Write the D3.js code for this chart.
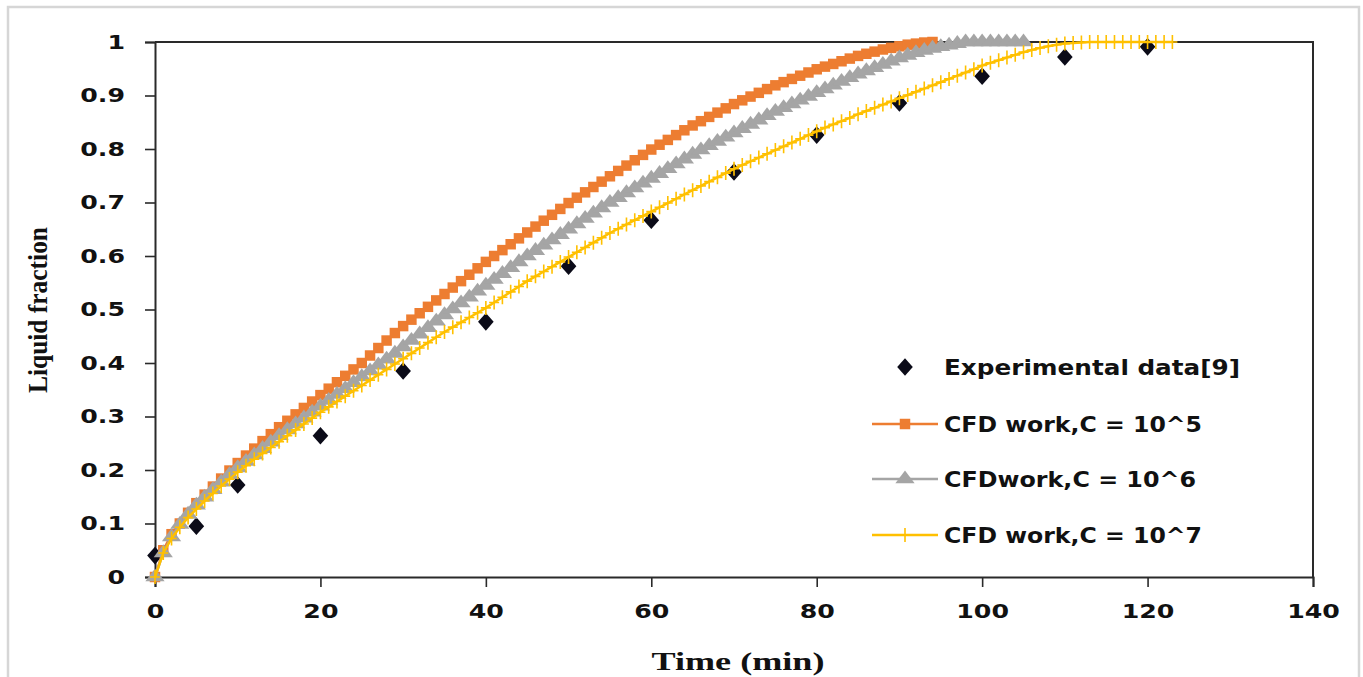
<!DOCTYPE html>
<html>
<head>
<meta charset="utf-8">
<script src="https://cdn.jsdelivr.net/npm/d3@7/dist/d3.min.js"></script>
<style>
  html, body { margin: 0; padding: 0; background: #fff; }
  svg { display: block; }
</style>
</head>
<body>
<svg id="chart" width="1363" height="677"></svg>
<script>
// Liquid fraction over melting time: experiment vs. CFD runs with different mushy-zone constants

const xTicks = [0, 20, 40, 60, 80, 100, 120, 140];
const yTicks = [0, 0.1, 0.2, 0.3, 0.4, 0.5, 0.6, 0.7, 0.8, 0.9, 1];

const seriesNames = [
  "Experimental data[9]",
  "CFD work,C = 10^5",
  "CFDwork,C = 10^6",
  "CFD work,C = 10^7"
];

// Experimental points (time in min, liquid fraction)
const expTime = [0, 5, 10, 20, 30, 40, 50, 60, 70, 80, 90, 100, 110, 120];
const expFrac = [0.04, 0.095, 0.172, 0.264, 0.385, 0.477, 0.581, 0.667, 0.757, 0.826, 0.886, 0.936, 0.972, 0.991];

// CFD results, one value per minute starting at t = 0
const cfdC5 = [
  0.000, 0.050, 0.080, 0.100, 0.120, 0.138, 0.154, 0.169, 0.184, 0.199,
  0.213, 0.227, 0.240, 0.254, 0.267, 0.280, 0.292, 0.304, 0.316, 0.328,
  0.340, 0.352, 0.364, 0.376, 0.388, 0.400, 0.414, 0.428, 0.442, 0.456,
  0.469, 0.481, 0.493, 0.505, 0.517, 0.529, 0.541, 0.553, 0.565, 0.577,
  0.589, 0.600, 0.611, 0.622, 0.633, 0.644, 0.655, 0.666, 0.677, 0.688,
  0.699, 0.709, 0.719, 0.729, 0.739, 0.749, 0.759, 0.769, 0.779, 0.789,
  0.799, 0.808, 0.817, 0.826, 0.835, 0.844, 0.852, 0.860, 0.868, 0.876,
  0.884, 0.891, 0.898, 0.905, 0.912, 0.919, 0.925, 0.931, 0.937, 0.943,
  0.949, 0.954, 0.959, 0.964, 0.969, 0.974, 0.978, 0.982, 0.986, 0.989,
  0.992, 0.995, 0.997, 0.999, 1.000
];

const cfdC6 = [
  0.000, 0.045, 0.075, 0.098, 0.117, 0.134, 0.149, 0.163, 0.177, 0.191,
  0.204, 0.216, 0.228, 0.240, 0.252, 0.264, 0.275, 0.286, 0.297, 0.308,
  0.319, 0.330, 0.341, 0.352, 0.363, 0.374, 0.385, 0.396, 0.407, 0.418,
  0.430, 0.442, 0.454, 0.466, 0.478, 0.490, 0.501, 0.512, 0.523, 0.534,
  0.545, 0.556, 0.567, 0.578, 0.589, 0.600, 0.610, 0.620, 0.630, 0.640,
  0.650, 0.660, 0.670, 0.680, 0.690, 0.700, 0.709, 0.718, 0.727, 0.736,
  0.745, 0.754, 0.763, 0.772, 0.781, 0.790, 0.798, 0.806, 0.814, 0.822,
  0.830, 0.838, 0.846, 0.854, 0.862, 0.870, 0.877, 0.884, 0.891, 0.898,
  0.905, 0.912, 0.919, 0.926, 0.933, 0.940, 0.946, 0.952, 0.958, 0.964,
  0.970, 0.975, 0.980, 0.984, 0.988, 0.991, 0.994, 0.997, 1.000, 1.000,
  1.000, 1.000, 1.000, 1.000, 1.000, 1.000
];

const cfdC7 = [
  0.000, 0.045, 0.072, 0.093, 0.111, 0.127, 0.142, 0.156, 0.170, 0.183,
  0.196, 0.208, 0.220, 0.231, 0.242, 0.253, 0.264, 0.275, 0.286, 0.297,
  0.308, 0.318, 0.328, 0.338, 0.348, 0.358, 0.368, 0.378, 0.388, 0.398,
  0.408, 0.418, 0.428, 0.438, 0.448, 0.458, 0.467, 0.476, 0.485, 0.494,
  0.503, 0.513, 0.523, 0.533, 0.543, 0.553, 0.562, 0.571, 0.580, 0.589,
  0.598, 0.607, 0.616, 0.625, 0.634, 0.643, 0.651, 0.659, 0.667, 0.675,
  0.683, 0.691, 0.699, 0.707, 0.715, 0.723, 0.731, 0.739, 0.747, 0.755,
  0.763, 0.770, 0.777, 0.784, 0.791, 0.798, 0.805, 0.812, 0.819, 0.826,
  0.833, 0.840, 0.846, 0.852, 0.858, 0.865, 0.871, 0.877, 0.883, 0.889,
  0.895, 0.901, 0.907, 0.913, 0.919, 0.925, 0.931, 0.937, 0.943, 0.949,
  0.956, 0.961, 0.966, 0.971, 0.976, 0.981, 0.985, 0.989, 0.992, 0.995,
  0.997, 0.998, 0.999, 1.000, 1.000, 1.000, 1.000, 1.000, 1.000, 1.000,
  1.000, 1.000, 1.000, 1.000
];

const colors = { exp: "#0b0b18", c5: "#ED7D31", c6: "#A5A5A5", c7: "#FFC000" };

const svg = d3.select("#chart");
const x = d3.scaleLinear().domain([0, 140]).range([155, 1313]);
const y = d3.scaleLinear().domain([0, 1]).range([577, 42]);

// outer frame
svg.append("rect")
  .attr("x", 8).attr("y", 7).attr("width", 1351).attr("height", 700)
  .attr("fill", "#fff").attr("stroke", "#d6d6d6").attr("stroke-width", 2.5);

const axisColor = "#2a2a2a";
const tickFont = "'DejaVu Sans', Verdana, sans-serif";
const stretch = 1.33;

// plot box (top and right edges)
svg.append("path")
  .attr("d", `M${x(0)},${y(1)}H${x(140)}V${y(0)}`)
  .attr("fill", "none").attr("stroke", axisColor).attr("stroke-width", 2);

// x axis
const xAxis = svg.append("g")
  .attr("transform", `translate(0,${y(0)})`)
  .call(d3.axisBottom(x).tickValues(xTicks).tickSize(10).tickPadding(18).tickFormat(d3.format("d")));
xAxis.select(".domain").attr("stroke", axisColor).attr("stroke-width", 2);
xAxis.selectAll(".tick line").attr("stroke", axisColor).attr("stroke-width", 1.6);
xAxis.selectAll(".tick text")
  .attr("fill", "#111").attr("font-family", tickFont).attr("font-weight", "bold").attr("font-size", 19)
  .attr("transform", `scale(${stretch},1)`);

// y axis
const yAxis = svg.append("g")
  .attr("transform", `translate(${x(0)},0)`)
  .call(d3.axisLeft(y).tickValues(yTicks).tickSize(10).tickPadding(20)
    .tickFormat(d => d === 0 || d === 1 ? d3.format("d")(d) : d3.format(".1f")(d)));
yAxis.select(".domain").attr("stroke", axisColor).attr("stroke-width", 2);
yAxis.selectAll(".tick line").attr("stroke", axisColor).attr("stroke-width", 1.6);
yAxis.selectAll(".tick text")
  .attr("fill", "#111").attr("font-family", tickFont).attr("font-weight", "bold").attr("font-size", 19)
  .attr("transform", `scale(${stretch},1)`)
  .attr("x", -30 / stretch);

// axis titles
svg.append("text")
  .attr("x", 738).attr("y", 670)
  .attr("text-anchor", "middle")
  .attr("font-family", "'Liberation Serif', 'Times New Roman', serif")
  .attr("font-weight", "bold").attr("font-size", 25).attr("fill", "#111")
  .attr("textLength", 173).attr("lengthAdjust", "spacingAndGlyphs")
  .text("Time  (min)");

svg.append("text")
  .attr("transform", "translate(47,310) rotate(-90)")
  .attr("text-anchor", "middle")
  .attr("font-family", "'Liberation Serif', 'Times New Roman', serif")
  .attr("font-weight", "bold").attr("font-size", 27).attr("fill", "#111")
  .attr("textLength", 166).attr("lengthAdjust", "spacingAndGlyphs")
  .text("Liquid fraction");

// marker shapes
const sq = d3.symbol().type(d3.symbolSquare).size(110);
const tri = d3.symbol().type(d3.symbolTriangle).size(95);
const dia = d3.symbol().type(d3.symbolDiamond).size(125);

function plus(g, cx, cy) {
  g.append("path")
    .attr("d", `M${cx},${cy - 7}V${cy + 7}M${cx - 5},${cy}H${cx + 5}`)
    .attr("stroke", colors.c7).attr("stroke-width", 1.6).attr("fill", "none");
}

const line = d3.line().x(d => x(d[0])).y(d => y(d[1]));
const asPairs = vals => vals.map((v, i) => [i, v]);

const plot = svg.append("g");

// experimental points
plot.selectAll("path.exp")
  .data(expTime.map((t, i) => [t, expFrac[i]]))
  .join("path").attr("class", "exp")
  .attr("d", dia)
  .attr("transform", d => `translate(${x(d[0])},${y(d[1])}) scale(1.3,0.85)`)
  .attr("fill", colors.exp);

// C = 10^5
const p5 = asPairs(cfdC5);
plot.append("path").attr("d", line(p5)).attr("fill", "none").attr("stroke", colors.c5).attr("stroke-width", 2.5);
plot.selectAll("path.c5").data(p5).join("path").attr("class", "c5")
  .attr("d", sq).attr("transform", d => `translate(${x(d[0])},${y(d[1])})`).attr("fill", colors.c5);

// C = 10^6
const p6 = asPairs(cfdC6);
plot.append("path").attr("d", line(p6)).attr("fill", "none").attr("stroke", colors.c6).attr("stroke-width", 2.5);
plot.selectAll("path.c6").data(p6).join("path").attr("class", "c6")
  .attr("d", tri).attr("transform", d => `translate(${x(d[0])},${y(d[1])}) scale(1.3,1)`).attr("fill", colors.c6);

// C = 10^7
const p7 = asPairs(cfdC7);
plot.append("path").attr("d", line(p7)).attr("fill", "none").attr("stroke", colors.c7).attr("stroke-width", 2.5);
const g7 = plot.append("g");
p7.forEach(d => plus(g7, x(d[0]), y(d[1])));

// legend
const legend = svg.append("g");
const legY = [367, 424, 479, 535];
const legFont = "'DejaVu Sans', Verdana, sans-serif";
seriesNames.forEach((name, i) => {
  const cy = legY[i];
  if (i === 0) {
    legend.append("path").attr("d", dia)
      .attr("transform", `translate(905,${cy}) scale(1.3,0.85)`).attr("fill", colors.exp);
  } else {
    const c = [colors.c5, colors.c6, colors.c7][i - 1];
    legend.append("line").attr("x1", 872).attr("x2", 938).attr("y1", cy).attr("y2", cy)
      .attr("stroke", c).attr("stroke-width", 2.5);
    if (i === 1) legend.append("path").attr("d", sq).attr("transform", `translate(905,${cy})`).attr("fill", c);
    if (i === 2) legend.append("path").attr("d", tri).attr("transform", `translate(905,${cy}) scale(1.3,1)`).attr("fill", c);
    if (i === 3) plus(legend, 905, cy);
  }
  legend.append("text")
    .attr("x", 944).attr("y", cy + 8)
    .attr("font-family", legFont).attr("font-weight", "bold").attr("font-size", 21).attr("fill", "#111")
    .attr("textLength", [296, 258, 252, 258][i]).attr("lengthAdjust", "spacingAndGlyphs")
    .text(name);
});
</script>
</body>
</html>
